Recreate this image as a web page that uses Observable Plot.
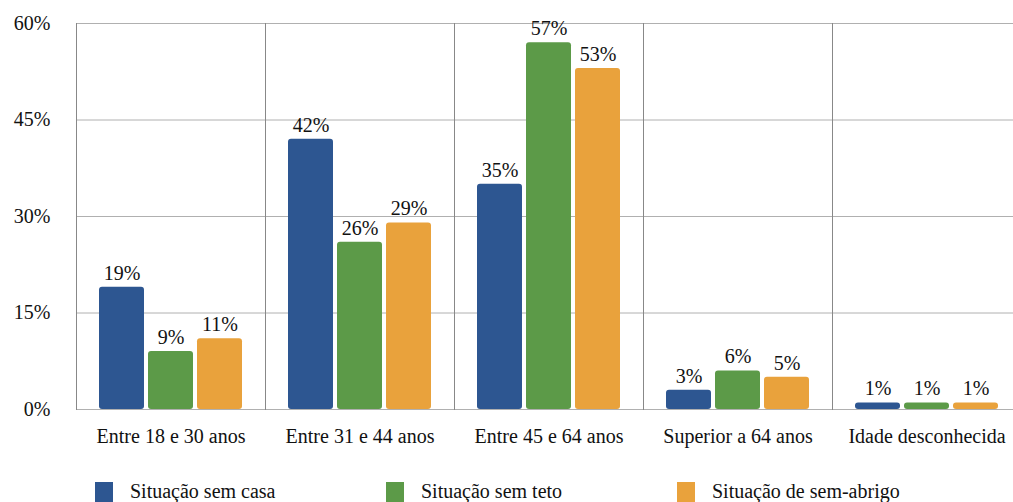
<!DOCTYPE html>
<html>
<head>
<meta charset="utf-8">
<script src="https://cdn.jsdelivr.net/npm/d3@7"></script>
<script src="https://cdn.jsdelivr.net/npm/@observablehq/plot@0.6"></script>
<style>
  html, body { margin: 0; padding: 0; background: #fff; overflow: hidden; }
  body { width: 1013px; height: 502px; font-family: 'Liberation Serif' !important; }
  #chart svg { max-width: none !important; }
  #chart svg text, #legend span { font-family: 'Liberation Serif' !important; }
  #legend { display: flex; padding-left: 95px; margin-top: 20px; }
  .item { display: flex; align-items: center; width: 291px; font-size: 20px; color: #111; }
  .sw { width: 18px; height: 20px; margin-right: 17px; }
</style>
</head>
<body>
<div id="chart"></div>
<div id="legend"></div>
<script>
const groups = ["Entre 18 e 30 anos", "Entre 31 e 44 anos", "Entre 45 e 64 anos", "Superior a 64 anos", "Idade desconhecida"];
const series = ["Situação sem casa", "Situação sem teto", "Situação de sem-abrigo"];
const colors = ["#2d5691", "#5c9a48", "#e9a23c"];
const semCasa = [19, 42, 35, 3, 1];
const semTeto = [9, 26, 57, 6, 1];
const semAbrigo = [11, 29, 53, 5, 1];
const yTicks = [0, 15, 30, 45, 60];

const values = [semCasa, semTeto, semAbrigo];
const data = [];
groups.forEach((g, i) => series.forEach((s, j) => data.push({group: g, series: s, value: values[j][i]})));

const chart = Plot.plot({
  width: 1021,
  height: 460,
  marginLeft: 76,
  marginRight: 0,
  marginTop: 23,
  marginBottom: 51,
  style: {fontFamily: "Liberation Serif", fontSize: "20px", color: "#111", background: "#fff", maxWidth: "none"},
  fx: {domain: groups, padding: 0, label: null},
  x: {domain: series, paddingInner: 0.09, paddingOuter: 0.454, axis: null},
  y: {domain: [0, 60], ticks: yTicks, tickFormat: d => d + "%", label: null},
  color: {domain: series, range: colors},
  marks: [
    Plot.gridY(yTicks, {stroke: "#b0b0b0", strokeOpacity: 1}),
    Plot.frame({anchor: "left", stroke: "#888"}),
    Plot.axisY(yTicks, {tickSize: 0, tickPadding: 26, fontSize: 20, tickFormat: d => d + "%", label: null}),
    Plot.axisFx({anchor: "bottom", tickSize: 0, tickPadding: 19, fontSize: 20, label: null}),
    Plot.barY(data, {fx: "group", x: "series", y: "value", fill: "series", rx: 3}),
    Plot.text(data, {fx: "group", x: "series", y: "value", text: d => d.value + "%", dy: -14, fontSize: 20, fill: "#111"})
  ]
});
chart.querySelectorAll("text, tspan, g").forEach(el => {
  el.setAttribute("font-family", "Liberation Serif");
  el.style.setProperty("font-family", "Liberation Serif", "important");
});
chart.style.setProperty("font-family", "Liberation Serif", "important");
document.getElementById("chart").appendChild(chart);

const legend = document.getElementById("legend");
series.forEach((s, i) => {
  const it = document.createElement("div");
  it.className = "item";
  const sw = document.createElement("div");
  sw.className = "sw";
  sw.style.background = colors[i];
  const t = document.createElement("span");
  t.textContent = s;
  t.style.setProperty("font-family", "Liberation Serif", "important");
  it.appendChild(sw); it.appendChild(t);
  legend.appendChild(it);
});
</script>
</body>
</html>
